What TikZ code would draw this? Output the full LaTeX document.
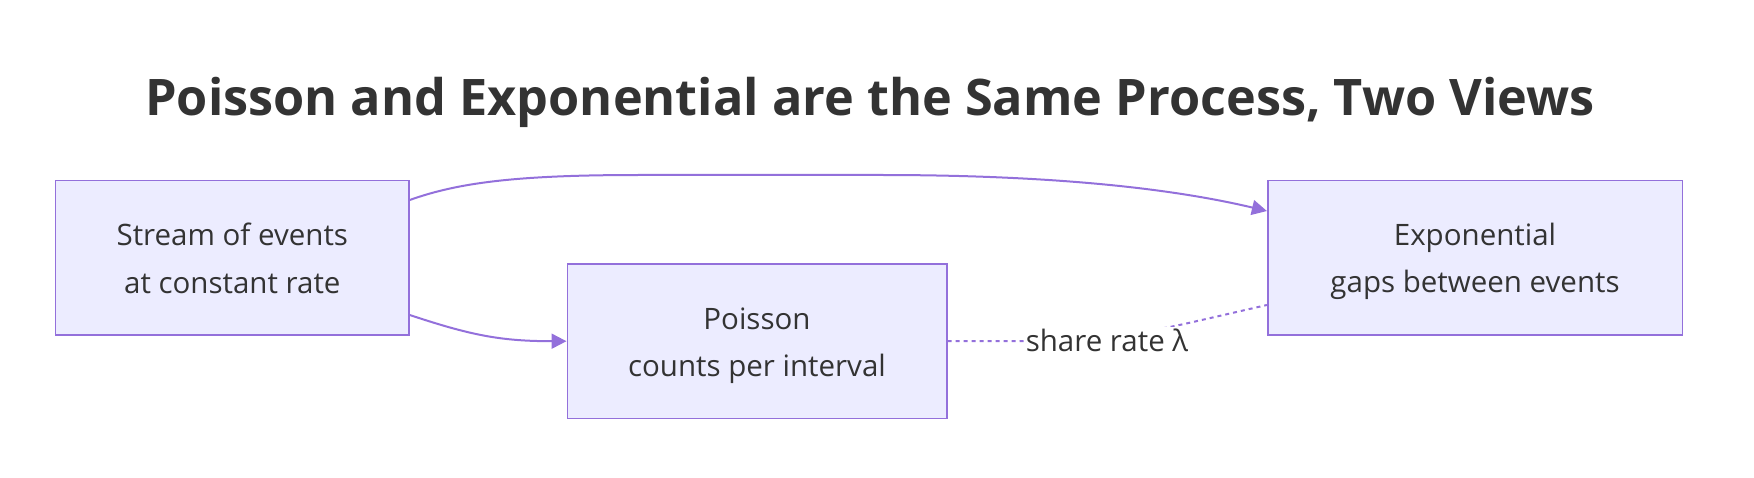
\documentclass[tikz,border=0pt]{standalone}
\usepackage{fontspec}
\setmainfont{Open Sans}
\usetikzlibrary{arrows.meta}
\definecolor{nodefill}{HTML}{ECECFF}
\definecolor{nodeline}{HTML}{9370DB}
\definecolor{txt}{HTML}{333333}
\newcommand{\ls}{\rule[-6.3pt]{0pt}{36.3pt}}
\tikzset{
  box/.style={draw=nodeline, fill=nodefill, line width=1.6pt, inner sep=0pt, align=center,
    text=txt, font={\fontsize{29.5}{47.3}\selectfont}, minimum height=154.3pt},
  link/.style={draw=nodeline, line width=2pt, -{Triangle[length=15pt,width=15pt]}},
  dotlink/.style={draw=nodeline, line width=2pt, dash pattern=on 4pt off 4pt},
  lbl/.style={fill=white, inner sep=2pt, text=txt, font={\fontsize{29.5}{35}\selectfont}},
}
\begin{document}
\begin{tikzpicture}[x=1pt,y=-1pt]
\useasboundingbox (0,0) rectangle (1754,478);
\node[anchor=base, text=txt, font={\fontsize{50.4}{58}\selectfont\bfseries}] (title) at (870,115.7) {Poisson and Exponential are the Same Process, Two Views};
\node[box, minimum width=353.3pt] (A) at (232.3,257.8) {\ls Stream of events\\\ls at constant rate};
\node[box, minimum width=379.4pt] (B) at (757,341.2) {\ls Poisson\\\ls counts per interval};
\node[box, minimum width=414.6pt] (C) at (1475,257.8) {\ls Exponential\\\ls gaps between events};
\coordinate (a1) at ([yshift=57.8pt]A.east);
\coordinate (a2) at ([yshift=-57.2pt]A.east);
\coordinate (c1) at ([yshift=46.8pt]C.west);
\coordinate (c2) at ([yshift=-47.2pt]C.west);
\draw[link] (a1) .. controls (460,182) and (520,175) .. (640,175) -- (880,175) .. controls (1050,175) and (1170,188) .. (c1);
\draw[link] (a2) .. controls (470,335) and (500,341.2) .. (B.west);
\draw[dotlink] (B.east) -- (1000,341.2) .. controls (1090,341.2) and (1140,334) .. (1191.7,322.3) -- (c2);
\node[lbl, anchor=base] (rate) at (1107,351.7) {share rate λ};
\end{tikzpicture}
\end{document}
